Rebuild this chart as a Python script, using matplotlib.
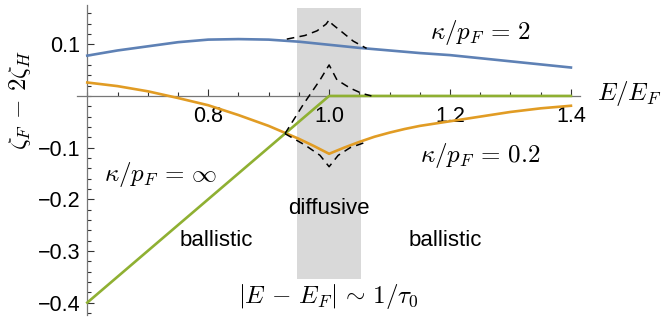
import matplotlib
matplotlib.use("Agg")
import matplotlib.pyplot as plt
from matplotlib.ticker import FixedLocator

plt.rcParams['font.family'] = ['Liberation Sans', 'DejaVu Sans']
plt.rcParams['mathtext.fontset'] = 'cm'

# curves
E_blue = [0.6, 0.65, 0.7, 0.75, 0.8, 0.85, 0.9, 0.95, 1.0, 1.05, 1.1, 1.15, 1.2, 1.25, 1.3, 1.35, 1.4]
zeta_blue = [0.078, 0.088, 0.096, 0.104, 0.109, 0.110, 0.109, 0.105, 0.099, 0.093, 0.088, 0.083, 0.079, 0.073, 0.067, 0.061, 0.055]

E_orange = [0.6, 0.65, 0.7, 0.75, 0.8, 0.85, 0.9, 0.95, 0.975, 1.0, 1.025, 1.05, 1.075, 1.1,
            1.125, 1.15, 1.2, 1.25, 1.3, 1.35, 1.4]
zeta_orange = [0.026, 0.019, 0.009, -0.004, -0.018, -0.037, -0.058, -0.083, -0.097, -0.112,
               -0.100, -0.089, -0.079, -0.071, -0.064, -0.058, -0.049, -0.040, -0.031, -0.024, -0.019]

E_green = [0.6, 1.0, 1.4]
zeta_green = [-0.4, 0.0, 0.0]

# dashed curves inside the diffusive window
E_dash_blue = [0.93, 0.96, 0.98, 0.995, 1.0, 1.005, 1.02, 1.04, 1.062]
zeta_dash_blue = [0.110, 0.117, 0.126, 0.139, 0.147, 0.139, 0.125, 0.106, 0.092]
E_dash_green = [0.927, 0.957, 0.985, 1.0, 1.013, 1.035, 1.054, 1.07]
zeta_dash_green = [-0.073, -0.017, 0.031, 0.060, 0.031, 0.015, 0.005, 0.0]
E_dash_orange = [0.927, 0.96, 0.985, 1.0, 1.015, 1.035, 1.062]
zeta_dash_orange = [-0.073, -0.095, -0.115, -0.137, -0.115, -0.100, -0.089]

band = (0.947, 1.053)
band_y = (-0.354, 0.170)

x_major = [0.8, 1.0, 1.2, 1.4]
y_major = [-0.4, -0.3, -0.2, -0.1, 0.1]

blue = '#5E81B5'
orange = '#E19C24'
green = '#8FB032'

fig = plt.figure(figsize=(6.61, 3.2), dpi=100)
ax = fig.add_axes([77 / 661, 5 / 320, 503 / 661, 310 / 320])
ax.set_xlim(0.583, 1.415)
ax.set_ylim(-0.424, 0.176)

ax.fill_between(band, band_y[0], band_y[1], color='#D9D9D9', lw=0, zorder=0)

ax.plot(E_blue, zeta_blue, color=blue, lw=1.9, zorder=3)
ax.plot(E_orange, zeta_orange, color=orange, lw=1.9, zorder=3)
ax.plot(E_green, zeta_green, color=green, lw=1.9, zorder=4)
for xs, ys in [(E_dash_blue, zeta_dash_blue), (E_dash_green, zeta_dash_green),
               (E_dash_orange, zeta_dash_orange)]:
    ax.plot(xs, ys, color='black', lw=1.1, ls=(0, (5, 3.5)), zorder=5)

for s in ['top', 'right']:
    ax.spines[s].set_visible(False)
ax.spines['left'].set_position(('data', 0.6))
ax.spines['bottom'].set_position(('data', 0.0))
for s in ['left', 'bottom']:
    ax.spines[s].set_color('#777777')
    ax.spines[s].set_linewidth(0.9)
    ax.spines[s].set_zorder(2)

ax.xaxis.set_major_locator(FixedLocator(x_major))
ax.xaxis.set_minor_locator(FixedLocator([0.6 + 0.05 * i for i in range(17)]))
ax.yaxis.set_major_locator(FixedLocator(y_major))
ax.yaxis.set_minor_locator(FixedLocator([-0.42 + 0.02 * i for i in range(30)]))
ax.set_xticklabels(['0.8', '1.0', '1.2', '1.4'])
ax.set_yticklabels(['\u22120.4', '\u22120.3', '\u22120.2', '\u22120.1', '0.1'])
ax.tick_params(which='both', direction='in', color='#333333', width=0.8, labelsize=15.5)
ax.tick_params(which='major', length=5, pad=5)
ax.tick_params(which='minor', length=3)
ax.tick_params(axis='x', which='major', pad=7)

mkw = dict(fontsize=18, ha='center', va='center')
ax.text(1.251, 0.122, r'$\kappa/p_F\,=\,2$', **mkw)
ax.text(1.25, -0.116, r'$\kappa/p_F\,=\,0.2$', **mkw)
ax.text(0.722, -0.153, r'$\kappa/p_F\,=\,\infty$', **mkw)
ax.text(0.998, -0.389, r'$|E\,-\,E_F|\,\sim\,1/\tau_0$', **mkw)
ax.text(1.497, 0.004, r'$E/E_F$', **mkw)
ax.text(0.488, -0.008, r'$\zeta_F\,-\,2\zeta_H$', rotation=90, **mkw)

tkw = dict(fontsize=16, ha='center', va='center')
ax.text(0.813, -0.279, 'ballistic', **tkw)
ax.text(1.192, -0.279, 'ballistic', **tkw)
ax.text(1.0, -0.217, 'diffusive', **tkw)

fig.savefig('out.png', dpi=100)
